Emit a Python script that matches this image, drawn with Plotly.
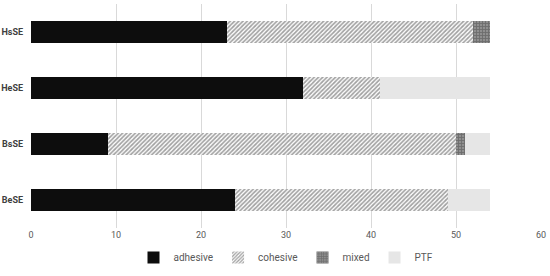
import plotly.graph_objects as go

# ── Data ───────────────────────────────────────────────────────────────────
categories = ["HsSE", "HeSE", "BsSE", "BeSE"]
adhesive = [23, 32, 9, 24]
cohesive = [29, 9, 41, 25]
mixed = [2, 0, 1, 0]
ptf = [0, 13, 3, 5]

FONT = "Roboto, Arial, sans-serif"

fig = go.Figure()

fig.add_trace(go.Bar(
    name="adhesive", y=categories, x=adhesive, orientation="h",
    marker=dict(color="#0d0d0d", line=dict(width=0)),
))
fig.add_trace(go.Bar(
    name="cohesive", y=categories, x=cohesive, orientation="h",
    marker=dict(
        color="#ffffff", line=dict(width=0),
        pattern=dict(shape="/", fgcolor="#444444", bgcolor="#ffffff",
                     size=3, solidity=0.55, fillmode="overlay"),
    ),
))
fig.add_trace(go.Bar(
    name="mixed", y=categories, x=mixed, orientation="h",
    marker=dict(
        color="#8a8a8a", line=dict(width=0),
        pattern=dict(shape="+", fgcolor="#4a4a4a", bgcolor="#8f8f8f",
                     size=3, solidity=0.5, fillmode="overlay"),
    ),
))
fig.add_trace(go.Bar(
    name="PTF", y=categories, x=ptf, orientation="h",
    marker=dict(color="#e6e6e6", line=dict(width=0)),
))

fig.update_layout(
    width=550, height=276,
    barmode="stack",
    bargap=0.6,
    paper_bgcolor="white",
    plot_bgcolor="white",
    font=dict(family=FONT, size=9, color="#595959"),
    margin=dict(l=31, r=9, t=4, b=38),
    xaxis=dict(
        range=[0, 60], dtick=10, showgrid=True, gridcolor="#d9d9d9",
        gridwidth=1, zeroline=False, showline=False, automargin=False,
        tickfont=dict(size=9, color="#595959"),
    ),
    yaxis=dict(
        autorange="reversed", showgrid=False, showline=False,
        ticks="", ticklabelstandoff=7, automargin=False,
        tickfont=dict(size=9, color="#404040", family=FONT, weight="bold"),
    ),
    legend=dict(
        orientation="h", x=0.5, xanchor="center", y=-0.132, yanchor="middle",
        traceorder="normal",
        font=dict(size=10, color="#595959"),
        itemwidth=30, tracegroupgap=0,
    ),
)

# drop the default page margin so the figure sits at the window's corner
fig.write_html("out.html", config={"displayModeBar": False},
               post_script="document.body.style.margin='0';")
